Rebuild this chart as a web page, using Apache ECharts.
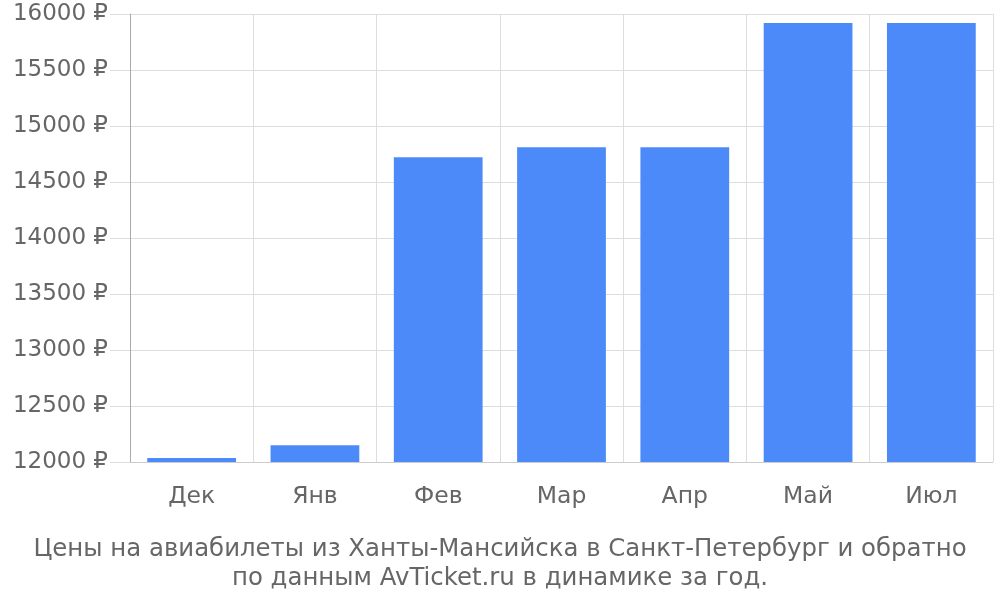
<!DOCTYPE html>
<html><head><meta charset="utf-8">
<script src="https://cdn.jsdelivr.net/npm/echarts@6/dist/echarts.min.js"></script>
<style>html,body{margin:0;padding:0;background:#fff}#c{width:1000px;height:600px}</style>
</head><body><div id="c"></div>
<script>
const categories = ['Дек','Янв','Фев','Мар','Апр','Май','Июл'];
const prices = [12035, 12150, 14720, 14810, 14810, 15920, 15920];
const yTicks = {min: 12000, max: 16000, interval: 500};
const titleLines = ['Цены на авиабилеты из Ханты-Мансийска в Санкт-Петербург и обратно', 'по данным AvTicket.ru в динамике за год.'];

const chart = echarts.init(document.getElementById('c'));
chart.setOption({
  animation: false,
  textStyle: {fontFamily: 'DejaVu Sans'},
  title: {
    text: titleLines.join('\n'),
    left: 'center', top: 530,
    textStyle: {fontFamily: 'DejaVu Sans', fontSize: 24.4, fontWeight: 'normal', color: '#666', lineHeight: 29}
  },
  grid: {left: 130, right: 7, top: 14, bottom: 138, containLabel: false},
  xAxis: {
    type: 'category', data: categories,
    axisLine: {lineStyle: {color: '#ccc', width: 1}},
    axisTick: {length: 18, lineStyle: {color: '#ccc'}},
    splitLine: {show: true, lineStyle: {color: '#ddd'}},
    axisLabel: {fontSize: 23.5, color: '#666', margin: 23}
  },
  yAxis: {
    type: 'value', min: yTicks.min, max: yTicks.max, interval: yTicks.interval,
    axisLine: {show: true, lineStyle: {color: '#aaa', width: 1}},
    axisTick: {show: true, length: 20, lineStyle: {color: '#ddd'}},
    splitLine: {lineStyle: {color: '#ddd'}},
    axisLabel: {fontSize: 23, color: '#666', margin: 22, padding: [2, 0, 0, 0], formatter: v => v + ' ₽'}
  },
  series: [{
    type: 'bar', data: prices, barWidth: '72%',
    itemStyle: {color: '#4d8af9'}
  }]
});
</script></body></html>
